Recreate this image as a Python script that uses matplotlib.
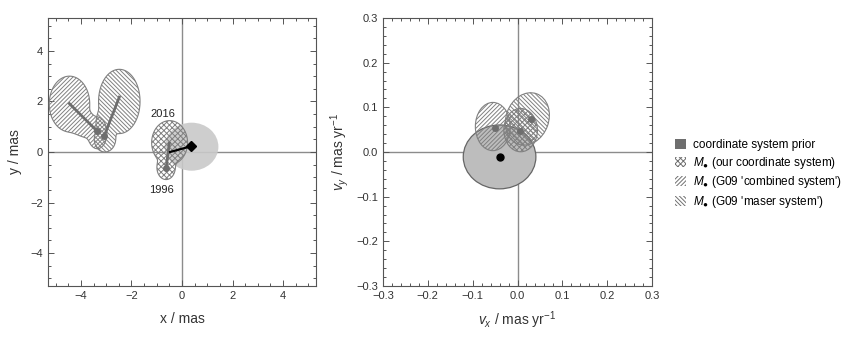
import numpy as np
import matplotlib
matplotlib.use("Agg")
import matplotlib.pyplot as plt
from matplotlib.patches import Ellipse, PathPatch, Patch

plt.rcParams['font.family'] = ['Liberation Sans', 'DejaVu Sans']
plt.rcParams['mathtext.fontset'] = 'custom'
plt.rcParams['mathtext.rm'] = 'Liberation Sans'
plt.rcParams['mathtext.it'] = 'Liberation Sans:italic'
plt.rcParams['mathtext.fallback'] = 'stixsans'
plt.rcParams['hatch.linewidth'] = 0.7

# --- position panel (mas): error regions built from a few ellipses each
# (centre x, centre y, semi-axis a, semi-axis b, angle in deg)
comb_x = [-4.45, -4.0, -3.35]
comb_y = [1.9, 1.2, 0.75]
comb_a = [0.8, 0.9, 0.38]
comb_b = [1.1, 0.5, 0.62]
comb_ang = [0, -35, 0]

maser_x = [-2.48, -3.1, -3.05]
maser_y = [2.0, 1.1, 0.5]
maser_a = [0.82, 0.3, 0.42]
maser_b = [1.27, 0.6, 0.5]
maser_ang = [0, 0, 0]

ours_x = [-0.49, -0.63]
ours_y = [0.37, -0.62]
ours_a = [0.71, 0.36]
ours_b = [0.87, 0.47]
ours_ang = [0, 0]

# tracks (2016 end -> 1996 end, dot at 1996)
comb_track_x = [-4.45, -3.37]
comb_track_y = [1.91, 0.84]
maser_track_x = [-2.48, -3.07]
maser_track_y = [2.17, 0.65]
ours_track_x = [-0.5, -0.63]
ours_track_y = [0.35, -0.64]

# prior offset
prior_pos = (0.38, 0.21)
prior_pos_size = (2.12, 1.9)
offset_x = [-0.47, 0.37]
offset_y = [0.0, 0.23]

# --- velocity panel (mas/yr): centre x, centre y, width, height, angle
vel_prior = (-0.040, -0.011, 0.162, 0.143, 0)
vel_comb = (-0.055, 0.057, 0.078, 0.108, 0)
vel_maser = (0.022, 0.074, 0.095, 0.12, -20)
vel_ours = (0.007, 0.049, 0.075, 0.097, 0)
vel_dots_x = [-0.051, 0.030, 0.006]
vel_dots_y = [0.053, 0.075, 0.048]

legend_labels = ['coordinate system prior',
                 '$M_{\u25CF}$ (our coordinate system)',
                 "$M_{\u25CF}$ (G09 'combined system')",
                 "$M_{\u25CF}$ (G09 'maser system')"]

EDGE = '#808080'
HATCH = '#707070'
FRAME = '#555555'
H_COMB = '/' * 8
H_MASER = '\\' * 8
H_OURS = 'x' * 6


def blob_path(ax, xs, ys, As, Bs, angs, lim, s=4.0):
    g = np.linspace(-lim, lim, 700)
    X, Y = np.meshgrid(g, g)
    F = np.zeros_like(X)
    for x0, y0, a, b, t in zip(xs, ys, As, Bs, angs):
        th = np.deg2rad(t)
        dx, dy = X - x0, Y - y0
        u = dx * np.cos(th) + dy * np.sin(th)
        v = -dx * np.sin(th) + dy * np.cos(th)
        q = (u / a) ** 2 + (v / b) ** 2
        F += np.exp(-s * (q - 1))
    cs = ax.contour(X, Y, F, levels=[1.0])
    path = cs.get_paths()[0]
    cs.remove()
    return path


def style_axes(ax, lim, major, minor):
    ax.set_xlim(-lim, lim)
    ax.set_ylim(-lim, lim)
    ax.xaxis.set_major_locator(plt.MultipleLocator(major))
    ax.yaxis.set_major_locator(plt.MultipleLocator(major))
    ax.xaxis.set_minor_locator(plt.MultipleLocator(minor))
    ax.yaxis.set_minor_locator(plt.MultipleLocator(minor))
    ax.tick_params(which='both', direction='in', top=True, right=True,
                   color=FRAME, labelcolor='#333333', labelsize=8, width=0.7)
    ax.tick_params(which='major', length=4)
    ax.tick_params(which='minor', length=2)
    for sp in ax.spines.values():
        sp.set_color(FRAME)
        sp.set_linewidth(0.8)
    ax.axhline(0, color='#8c8c8c', lw=1.0, zorder=1)
    ax.axvline(0, color='#8c8c8c', lw=1.0, zorder=1)


fig = plt.figure(figsize=(8.65, 3.38), dpi=100)
ax1 = fig.add_axes([48 / 865, 52 / 338, 268 / 865, 268 / 338])
ax2 = fig.add_axes([383 / 865, 52 / 338, 269 / 865, 268 / 338])

# left panel
style_axes(ax1, 5.3, 2, 0.5)
ax1.add_patch(Ellipse(prior_pos, *prior_pos_size, facecolor='#c9c9c9',
                      edgecolor='none', alpha=0.9, zorder=2))
for xs, ys, As, Bs, angs, h in [
        (comb_x, comb_y, comb_a, comb_b, comb_ang, H_COMB),
        (maser_x, maser_y, maser_a, maser_b, maser_ang, H_MASER),
        (ours_x, ours_y, ours_a, ours_b, ours_ang, H_OURS)]:
    p = blob_path(ax1, xs, ys, As, Bs, angs, 5.3)
    ax1.add_patch(PathPatch(p, facecolor='none', edgecolor=EDGE, hatch=h,
                            lw=0.8, zorder=3))
for tx, ty in [(comb_track_x, comb_track_y), (maser_track_x, maser_track_y),
               (ours_track_x, ours_track_y)]:
    ax1.plot(tx, ty, color='#6e6e6e', lw=2, zorder=4)
    ax1.plot(tx[-1], ty[-1], 'o', color='#6e6e6e', ms=4, zorder=4)
ax1.plot(offset_x, offset_y, color='black', lw=1.6, zorder=5)
ax1.plot(offset_x[-1], offset_y[-1], 'D', color='black', ms=5, zorder=5)
ax1.text(-0.74, 1.51, '2016', fontsize=8, ha='center', va='center', color='#222222')
ax1.text(-0.83, -1.51, '1996', fontsize=8, ha='center', va='center', color='#222222')
ax1.set_xlabel('x / mas', fontsize=10, color='#333333', labelpad=8)
ax1.set_ylabel('y / mas', fontsize=10, color='#333333', labelpad=6)

# right panel
style_axes(ax2, 0.3, 0.1, 0.02)
cx, cy, w, hgt, a = vel_prior
ax2.add_patch(Ellipse((cx, cy), w, hgt, angle=a, facecolor='#bdbdbd',
                      edgecolor='#666666', lw=0.9, zorder=2))
for (cx, cy, w, hgt, a), h in [(vel_comb, H_COMB), (vel_maser, H_MASER),
                               (vel_ours, H_OURS)]:
    ax2.add_patch(Ellipse((cx, cy), w, hgt, angle=a, facecolor='none',
                          edgecolor=EDGE, hatch=h, lw=0.8, zorder=3))
ax2.plot(vel_dots_x, vel_dots_y, 'o', color='#6e6e6e', ms=4, zorder=4)
ax2.plot(vel_prior[0], vel_prior[1], 'o', color='black', ms=5, zorder=5)
ax2.set_xlabel(r'$v_x$ / mas yr$^{-1}$', fontsize=10, color='#333333', labelpad=6)
ax2.set_ylabel(r'$v_y$ / mas yr$^{-1}$', fontsize=10, color='#333333', labelpad=4)

handles = [Patch(facecolor='#6e6e6e', edgecolor='none'),
           Patch(facecolor='white', edgecolor=HATCH, hatch=H_OURS, lw=0),
           Patch(facecolor='white', edgecolor=HATCH, hatch=H_COMB, lw=0),
           Patch(facecolor='white', edgecolor=HATCH, hatch=H_MASER, lw=0)]
fig.legend(handles, legend_labels, loc='upper left',
           bbox_to_anchor=(675 / 865, 1 - 139 / 338), frameon=False,
           fontsize=8.5, handlelength=0.95, handleheight=0.95,
           handletextpad=0.6, labelspacing=0.3, borderpad=0, borderaxespad=0)

fig.savefig('out.png', dpi=100)
